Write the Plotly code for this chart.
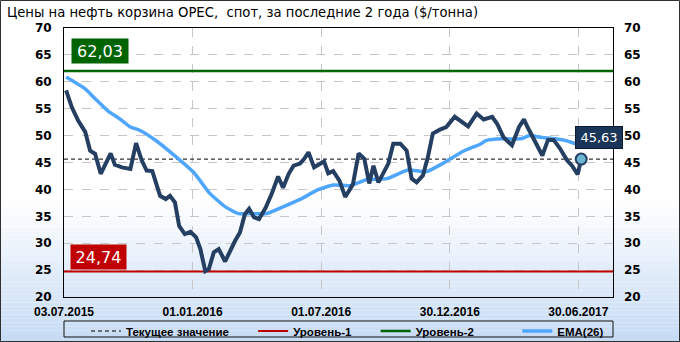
import plotly.graph_objects as go

# ---------------- data ----------------
price_dates = ["2015-07-06","2015-07-14","2015-07-23","2015-08-02","2015-08-09","2015-08-16","2015-08-24","2015-09-01","2015-09-07","2015-09-13",
               "2015-09-23","2015-10-05","2015-10-13","2015-10-21","2015-10-28","2015-11-05","2015-11-16","2015-11-24","2015-11-30","2015-12-07",
               "2015-12-13","2015-12-21","2015-12-29",
               "2016-01-06","2016-01-12","2016-01-19","2016-01-24","2016-01-31","2016-02-07","2016-02-16","2016-02-23","2016-03-01","2016-03-08",
               "2016-03-15","2016-03-21","2016-03-28","2016-04-04","2016-04-13","2016-04-22","2016-05-01","2016-05-08","2016-05-16","2016-05-23",
               "2016-06-01","2016-06-07","2016-06-13","2016-06-21","2016-06-29","2016-07-05","2016-07-11","2016-07-18","2016-07-27","2016-08-04",
               "2016-08-11","2016-08-15","2016-08-23","2016-08-31","2016-09-07","2016-09-13","2016-09-20","2016-09-27","2016-10-04","2016-10-11",
               "2016-10-21","2016-10-30","2016-11-06","2016-11-13","2016-11-22","2016-11-29","2016-12-06","2016-12-16","2016-12-25",
               "2017-01-06","2017-01-16","2017-01-25","2017-02-06","2017-02-16","2017-02-28","2017-03-07","2017-03-16","2017-03-28","2017-04-07",
               "2017-04-14","2017-04-19","2017-04-28","2017-05-10","2017-05-18","2017-05-26","2017-06-04","2017-06-14","2017-06-21","2017-06-29",
               "2017-07-04"]
price_values = [58.4,55.3,52.8,50.7,47.2,46.6,42.9,45.1,46.7,44.6,
                44.1,43.8,48.6,45.4,43.5,43.4,38.8,38.2,38.8,37.6,
                33.2,31.7,32.1,31.1,28.9,24.8,25.2,28.3,28.9,26.6,
                28.6,30.4,32.0,35.4,36.4,34.8,34.5,36.5,39.2,42.4,
                40.3,42.9,44.4,44.8,45.7,46.9,44.1,44.8,45.2,43.0,
                43.4,41.6,38.6,40.1,41.0,46.7,45.7,41.1,44.4,41.3,
                42.9,44.8,48.5,48.5,47.2,42.0,41.3,42.6,46.0,50.4,
                51.1,51.6,53.5,52.5,51.7,54.1,53.0,53.5,52.2,49.7,
                48.2,51.6,53.0,51.6,49.4,46.3,49.2,49.2,47.6,45.4,
                44.4,42.8,45.63]

ema_dates = ["2015-07-06","2015-08-02","2015-08-18","2015-09-03","2015-09-20","2015-10-05","2015-10-18","2015-11-11","2015-12-09",
             "2016-01-03","2016-01-25","2016-02-17","2016-03-06","2016-03-22","2016-04-15","2016-05-07","2016-06-02","2016-06-26",
             "2016-07-18","2016-08-11","2016-09-03","2016-10-02","2016-11-01","2016-11-27","2016-12-21","2017-01-18","2017-02-11",
             "2017-02-20","2017-03-16","2017-04-09","2017-04-22","2017-05-07","2017-05-28","2017-06-14","2017-06-28"]
ema_values = [60.9,58.7,56.6,54.6,53.1,51.6,51.0,49.0,46.0,43.1,39.3,36.7,35.5,35.5,35.5,36.7,38.2,39.9,
              40.8,40.7,41.8,42.0,43.6,43.3,44.9,47.1,48.4,49.1,49.4,49.4,50.0,49.7,49.4,49.0,48.4]

level_1 = 24.74
level_2 = 62.03
current_value = 45.63

x_range = ["2015-07-03", "2017-08-18"]
tick_dates = ["2015-07-03", "2016-01-01", "2016-07-01", "2016-12-30", "2017-06-30"]
tick_labels = ["03.07.2015", "01.01.2016", "01.07.2016", "30.12.2016", "30.06.2017"]
y_range = [20, 70]

title_text = "Цены на нефть корзина OPEC,\u00a0 спот, за последние 2 года ($/тонна)"
legend_names = ["Текущее значение", "Уровень-1", "Уровень-2", "EMA(26)"]
legend_pad = [6, 6, 12, 0]  # trailing non-breaking spaces per legend entry

def fmt(v):
    return f"{v:.2f}".replace(".", ",")

# ---------------- layout geometry ----------------
W, H = 680, 342
ML, MR, MT, MB = 64, 67, 28, 45
PW, PH = W - ML - MR, H - MT - MB

def pxx(px):
    return (px - ML) / PW

def pxy(py):
    return (H - MB - py) / PH

NAVY = "#243f61"
EMA_C = "#4ea6ff"
RED = "#c00000"
GREEN = "#006400"

names = [n + "\u00a0" * p for n, p in zip(legend_names, legend_pad)]

fig = go.Figure()

# legend traces
fig.add_trace(go.Scatter(x=x_range, y=[current_value, current_value], mode="lines",
                         line=dict(color="black", width=1, dash="4px,3px"),
                         name=names[0], hoverinfo="skip"))
fig.add_trace(go.Scatter(x=x_range, y=[level_1, level_1], mode="lines",
                         line=dict(color=RED, width=2), name=names[1], hoverinfo="skip"))
fig.add_trace(go.Scatter(x=x_range, y=[level_2, level_2], mode="lines",
                         line=dict(color=GREEN, width=2.5), name=names[2], hoverinfo="skip"))
fig.add_trace(go.Scatter(x=ema_dates, y=ema_values, mode="lines",
                         line=dict(color=EMA_C, width=3.5, shape="spline", smoothing=0.5),
                         name=names[3]))
fig.add_trace(go.Scatter(x=price_dates, y=price_values, mode="lines",
                         line=dict(color=NAVY, width=4), showlegend=False, name="Цена"))
fig.add_trace(go.Scatter(x=[price_dates[-1]], y=[price_values[-1]], mode="markers",
                         marker=dict(size=11, color="#6cb6d3", line=dict(color=NAVY, width=2)),
                         showlegend=False, hoverinfo="skip"))
# invisible trace to carry right axis
fig.add_trace(go.Scatter(x=[price_dates[0]], y=[price_values[0]], yaxis="y2", mode="markers",
                         marker=dict(opacity=0), showlegend=False, hoverinfo="skip"))

shapes = []
# background gradient
N = 36
y_start, y_end = 200, H
c0 = (255, 255, 255)
c1 = (197, 218, 244)
for i in range(N):
    a = y_start + (y_end - y_start) * i / N
    b = y_start + (y_end - y_start) * (i + 1) / N
    t = (i + 0.5) / N
    col = "rgb(%d,%d,%d)" % tuple(round(c0[k] + (c1[k] - c0[k]) * t) for k in range(3))
    shapes.append(dict(type="rect", xref="paper", yref="paper", layer="below",
                       x0=pxx(0), x1=pxx(W), y0=pxy(b), y1=pxy(a),
                       fillcolor=col, line=dict(width=0)))
# outer frame
shapes.append(dict(type="rect", xref="paper", yref="paper", layer="above",
                   x0=pxx(0.5), x1=pxx(W - 0.5), y0=pxy(H - 0.5), y1=pxy(0.5),
                   line=dict(color="#303030", width=1)))
# legend frame
shapes.append(dict(type="rect", xref="paper", yref="paper", layer="above",
                   x0=0, x1=1, y0=pxy(337), y1=pxy(321),
                   line=dict(color="#101010", width=1)))

annotations = [
    dict(text=title_text, xref="paper", yref="paper", x=pxx(5), y=pxy(12.5),
         xanchor="left", yanchor="middle", showarrow=False,
         font=dict(family="DejaVu Sans", size=13.2, color="black")),
    dict(text=fmt(level_2), xref="x", yref="y", x=x_range[0], y=level_2,
         xanchor="left", yanchor="bottom", xshift=7, yshift=7, showarrow=False,
         width=54, height=22, bgcolor=GREEN, font=dict(family="DejaVu Sans", size=16, color="white")),
    dict(text=fmt(level_1), xref="x", yref="y", x=x_range[0], y=level_1,
         xanchor="left", yanchor="bottom", xshift=6, yshift=2, showarrow=False,
         width=53, height=22, bgcolor=RED, font=dict(family="DejaVu Sans", size=16, color="white")),
    dict(text=fmt(current_value), xref="x", yref="y", x=price_dates[-1], y=price_values[-1],
         xanchor="left", yanchor="middle", xshift=-6, yshift=22, showarrow=False,
         width=44, height=19, bgcolor="#1b3558", bordercolor="#0a1a33", borderwidth=1,
         font=dict(family="DejaVu Sans", size=13, color="white")),
]

grid = dict(gridcolor="#c6c6c6", griddash="dash", gridwidth=1)
yfont = dict(family="DejaVu Sans", size=12, color="black", weight="bold")

fig.update_layout(
    width=W, height=H, autosize=False,
    margin=dict(l=ML, r=MR, t=MT, b=MB, pad=0, autoexpand=False),
    paper_bgcolor="white", plot_bgcolor="rgba(0,0,0,0)",
    showlegend=True,
    legend=dict(orientation="h", x=pxx(86), y=pxy(316.5), xanchor="left", yanchor="top",
                bgcolor="rgba(0,0,0,0)", borderwidth=0,
                font=dict(family="Liberation Sans", size=11.5, color="black", weight="bold"),
                itemwidth=30, tracegroupgap=0),
    xaxis=dict(type="date", range=x_range, tickvals=tick_dates, ticktext=tick_labels,
               showline=True, linecolor="black", linewidth=1, mirror=True,
               ticks="", ticklabelstandoff=4, zeroline=False, showgrid=True, **grid, automargin=False,
               tickfont=dict(family="Liberation Sans", size=12, color="black", weight="bold")),
    yaxis=dict(range=y_range, dtick=5, tick0=20, showline=True, linecolor="black", linewidth=1,
               mirror=True, ticks="", ticklabelstandoff=9, zeroline=False, showgrid=True, **grid,
               automargin=False, tickfont=yfont),
    yaxis2=dict(range=y_range, dtick=5, tick0=20, overlaying="y", side="right", showgrid=False,
                ticks="", ticklabelstandoff=10, zeroline=False, showline=False, automargin=False,
                tickfont=yfont),
    shapes=shapes, annotations=annotations,
)

fig.write_html("out.html")
